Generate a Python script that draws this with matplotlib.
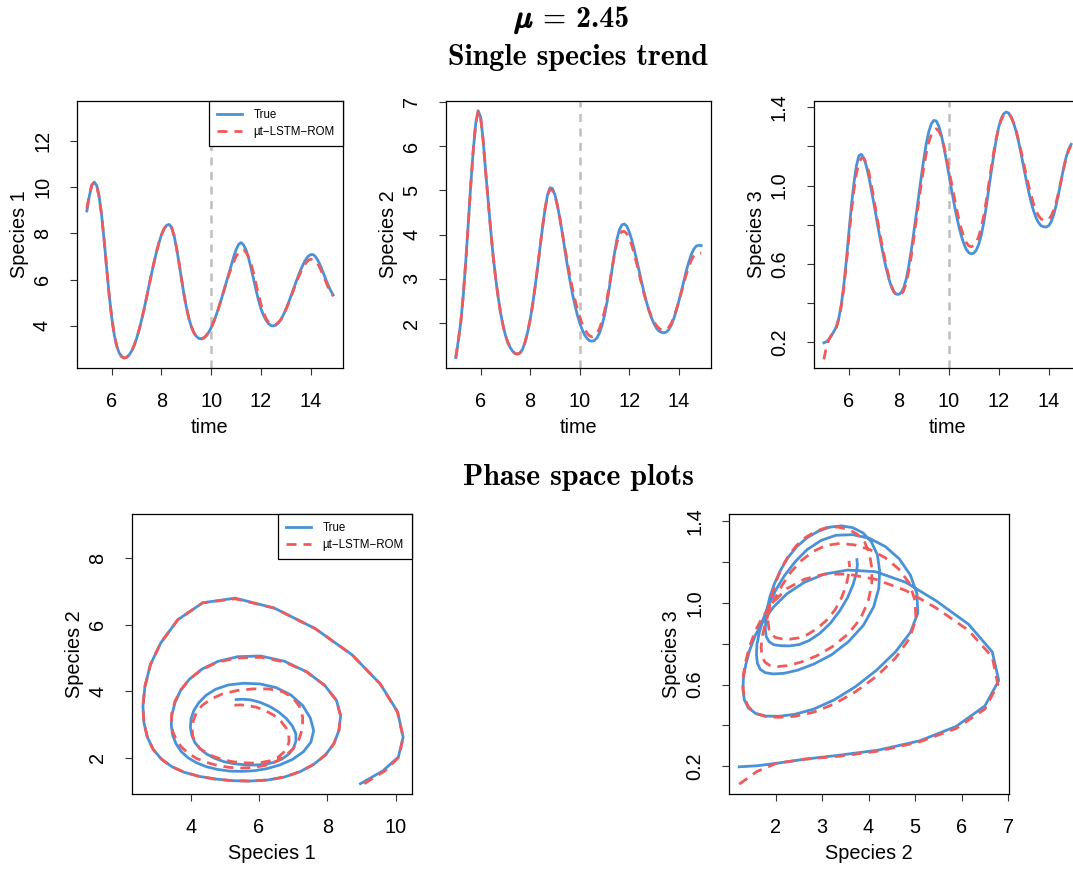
import numpy as np
import matplotlib
matplotlib.use("Agg")
import matplotlib.pyplot as plt
import matplotlib.patheffects as pe
from matplotlib.lines import Line2D

# ---------------- data ----------------
time = np.round(np.arange(50, 150) / 10.0, 1)   # 5.0 ... 14.9

s1_true = [8.97, 9.62, 10.08, 10.22, 10.06, 9.55, 8.72, 7.65, 6.45, 5.30,
           4.35, 3.62, 3.12, 2.82, 2.66, 2.60, 2.63, 2.73, 2.90, 3.14,
           3.45, 3.82, 4.25, 4.72, 5.22, 5.74, 6.25, 6.74, 7.20, 7.60,
           7.94, 8.19, 8.34, 8.39, 8.27, 7.93, 7.40, 6.75, 6.05, 5.38,
           4.80, 4.32, 3.96, 3.70, 3.54, 3.45, 3.43, 3.47, 3.57, 3.72,
           3.92, 4.17, 4.46, 4.78, 5.13, 5.49, 5.86, 6.22, 6.60, 6.98,
           7.30, 7.52, 7.60, 7.50, 7.28, 6.93, 6.50, 6.03, 5.55, 5.10,
           4.73, 4.45, 4.24, 4.09, 4.01, 3.99, 4.03, 4.12, 4.27, 4.47,
           4.71, 4.98, 5.27, 5.57, 5.87, 6.16, 6.43, 6.67, 6.87, 7.01,
           7.08, 7.08, 6.98, 6.80, 6.57, 6.30, 6.02, 5.76, 5.52, 5.33]

s1_pred = [9.08, 9.68, 10.10, 10.22, 10.05, 9.55, 8.72, 7.65, 6.45, 5.30,
           4.35, 3.62, 3.12, 2.82, 2.66, 2.60, 2.63, 2.73, 2.90, 3.14,
           3.45, 3.82, 4.25, 4.72, 5.22, 5.74, 6.25, 6.74, 7.20, 7.60,
           7.94, 8.19, 8.34, 8.39, 8.27, 7.93, 7.40, 6.75, 6.05, 5.38,
           4.80, 4.32, 3.96, 3.70, 3.54, 3.45, 3.43, 3.47, 3.57, 3.72,
           3.92, 4.17, 4.46, 4.78, 5.13, 5.49, 5.85, 6.18, 6.48, 6.76,
           7.00, 7.17, 7.27, 7.28, 7.18, 6.98, 6.68, 6.28, 5.82, 5.35,
           4.93, 4.58, 4.32, 4.16, 4.07, 4.04, 4.06, 4.14, 4.27, 4.46,
           4.69, 4.95, 5.23, 5.52, 5.81, 6.08, 6.33, 6.54, 6.71, 6.83,
           6.88, 6.87, 6.79, 6.64, 6.43, 6.18, 5.92, 5.66, 5.45, 5.28]

s2_true = [1.22, 1.60, 2.02, 2.62, 3.38, 4.22, 5.10, 5.88, 6.50, 6.80,
           6.66, 6.15, 5.45, 4.80, 4.15, 3.55, 3.05, 2.62, 2.25, 1.96,
           1.73, 1.56, 1.44, 1.36, 1.31, 1.30, 1.33, 1.42, 1.58, 1.80,
           2.08, 2.42, 2.82, 3.26, 3.72, 4.17, 4.58, 4.90, 5.06, 5.04,
           4.90, 4.66, 4.36, 4.02, 3.66, 3.30, 2.98, 2.68, 2.42, 2.19,
           2.00, 1.85, 1.73, 1.65, 1.60, 1.59, 1.61, 1.67, 1.78, 1.95,
           2.18, 2.47, 2.82, 3.20, 3.57, 3.89, 4.11, 4.22, 4.24, 4.19,
           4.06, 3.88, 3.66, 3.42, 3.17, 2.92, 2.68, 2.46, 2.27, 2.11,
           1.98, 1.88, 1.82, 1.79, 1.78, 1.80, 1.86, 1.96, 2.11, 2.29,
           2.50, 2.72, 2.95, 3.18, 3.38, 3.55, 3.67, 3.74, 3.76, 3.75]

s2_pred = [1.22, 1.60, 2.02, 2.62, 3.38, 4.22, 5.10, 5.88, 6.50, 6.78,
           6.66, 6.15, 5.45, 4.80, 4.15, 3.55, 3.05, 2.62, 2.25, 1.96,
           1.73, 1.56, 1.44, 1.36, 1.31, 1.30, 1.33, 1.42, 1.58, 1.80,
           2.08, 2.42, 2.82, 3.26, 3.72, 4.17, 4.58, 4.88, 5.02, 5.00,
           4.88, 4.65, 4.36, 4.03, 3.70, 3.38, 3.08, 2.80, 2.55, 2.33,
           2.14, 1.98, 1.86, 1.77, 1.71, 1.69, 1.71, 1.77, 1.88, 2.05,
           2.27, 2.55, 2.88, 3.22, 3.55, 3.82, 3.99, 4.07, 4.07, 4.02,
           3.92, 3.76, 3.56, 3.34, 3.10, 2.87, 2.65, 2.45, 2.28, 2.14,
           2.03, 1.94, 1.88, 1.85, 1.84, 1.86, 1.91, 2.00, 2.15, 2.31,
           2.49, 2.69, 2.90, 3.10, 3.28, 3.42, 3.52, 3.57, 3.59, 3.58]

s3_true = [0.198, 0.203, 0.215, 0.235, 0.255, 0.280, 0.325, 0.395, 0.495, 0.620,
           0.760, 0.895, 1.010, 1.100, 1.152, 1.160, 1.140, 1.100, 1.045, 0.980,
           0.910, 0.838, 0.765, 0.697, 0.633, 0.575, 0.525, 0.485, 0.458, 0.446,
           0.445, 0.455, 0.480, 0.525, 0.590, 0.670, 0.760, 0.855, 0.950, 1.045,
           1.135, 1.215, 1.275, 1.315, 1.333, 1.330, 1.305, 1.260, 1.200, 1.132,
           1.060, 0.987, 0.918, 0.853, 0.795, 0.745, 0.705, 0.675, 0.658, 0.652,
           0.655, 0.670, 0.700, 0.745, 0.810, 0.890, 0.980, 1.070, 1.155, 1.235,
           1.298, 1.342, 1.367, 1.376, 1.370, 1.350, 1.318, 1.275, 1.222, 1.160,
           1.095, 1.030, 0.970, 0.915, 0.870, 0.835, 0.810, 0.795, 0.790, 0.789,
           0.795, 0.815, 0.850, 0.900, 0.960, 1.025, 1.090, 1.145, 1.185, 1.211]

s3_pred = [0.113, 0.175, 0.215, 0.235, 0.250, 0.275, 0.320, 0.385, 0.480, 0.600,
           0.735, 0.865, 0.975, 1.060, 1.115, 1.140, 1.140, 1.115, 1.070, 1.005,
           0.935, 0.860, 0.785, 0.715, 0.650, 0.590, 0.535, 0.490, 0.458, 0.443,
           0.440, 0.445, 0.465, 0.505, 0.565, 0.640, 0.730, 0.825, 0.920, 1.010,
           1.095, 1.165, 1.220, 1.260, 1.283, 1.290, 1.280, 1.250, 1.205, 1.150,
           1.085, 1.020, 0.955, 0.890, 0.830, 0.780, 0.740, 0.710, 0.693, 0.688,
           0.693, 0.710, 0.740, 0.785, 0.845, 0.920, 1.005, 1.090, 1.170, 1.240,
           1.295, 1.335, 1.360, 1.370, 1.368, 1.350, 1.320, 1.280, 1.230, 1.175,
           1.115, 1.055, 1.000, 0.950, 0.905, 0.870, 0.845, 0.830, 0.823, 0.822,
           0.828, 0.845, 0.875, 0.915, 0.965, 1.025, 1.085, 1.140, 1.180, 1.205]

split_time = 10
legend_labels = ["True", "\u00b5t\u2212LSTM\u2212ROM"]
title_symbol = r"$\mu$"
title_value = "= 2.45"
top_title = "Single species trend"
bottom_title = "Phase space plots"

# ---------------- style ----------------
plt.rcParams["font.family"] = ["Liberation Sans", "DejaVu Sans"]
plt.rcParams["mathtext.fontset"] = "cm"

BLUE = "#4A92D8"
RED = "#EF5B5B"
GREY = "#BEBEBE"
LW = 2.0
DASH = (0, (3.6, 2.5))
FS = 14.3

W, H = 1073, 872
fig = plt.figure(figsize=(W / 100, H / 100), dpi=100)


def add_ax(l, r, t, b):
    return fig.add_axes([l / W, 1 - b / H, (r - l) / W, (b - t) / H])


def style(ax, xticks, yticks, ylabels=None, xlabel="", ylabel=""):
    ax.set_xticks(xticks)
    ax.set_xticklabels([str(v) for v in xticks])
    ax.set_yticks(yticks)
    if ylabels is None:
        ylabels = [str(v) for v in yticks]
    ax.set_yticklabels(ylabels)
    ax.tick_params(direction="out", length=5, width=0.8, labelsize=FS,
                   color="#333333")
    ax.tick_params(axis="x", pad=12)
    ax.tick_params(axis="y", pad=13, labelrotation=90)
    for lab in ax.get_yticklabels():
        lab.set_va("center")
    for s in ax.spines.values():
        s.set_linewidth(0.9)
    ax.set_xlabel(xlabel, fontsize=FS, labelpad=5)
    ax.set_ylabel(ylabel, fontsize=FS, labelpad=3)


def add_legend(ax):
    handles = [Line2D([], [], color=BLUE, lw=LW),
               Line2D([], [], color=RED, lw=LW, ls=DASH)]
    leg = ax.legend(handles, legend_labels, loc="upper right",
                    borderaxespad=0, fontsize=8.3, frameon=True,
                    fancybox=False, edgecolor="black", framealpha=1,
                    handlelength=2.2, handletextpad=1.0, borderpad=0.7,
                    labelspacing=0.45)
    leg.get_frame().set_linewidth(0.9)


def trend(ax, true, pred):
    ax.axvline(split_time, color=GREY, lw=1.8, ls=(0, (3.2, 2.6)), zorder=1)
    ax.plot(time, true, color=BLUE, lw=LW, zorder=2)
    ax.plot(time, pred, color=RED, lw=LW, ls=DASH, zorder=3)


# --- top row ---
ax1 = add_ax(77, 343, 101, 368)
trend(ax1, s1_true, s1_pred)
ax1.set_xlim(4.604, 15.296)
ax1.set_ylim(2.168, 13.732)
style(ax1, [6, 8, 10, 12, 14], [4, 6, 8, 10, 12], xlabel="time", ylabel="Species 1")
add_legend(ax1)

ax2 = add_ax(446, 711, 101, 368)
trend(ax2, s2_true, s2_pred)
ax2.set_xlim(4.604, 15.296)
ax2.set_ylim(0.985, 7.02)
style(ax2, [6, 8, 10, 12, 14], [2, 3, 4, 5, 6, 7], xlabel="time", ylabel="Species 2")

ax3 = add_ax(814, 1081, 101, 368)
trend(ax3, s3_true, s3_pred)
ax3.set_xlim(4.604, 15.296)
ax3.set_ylim(0.069, 1.432)
style(ax3, [6, 8, 10, 12, 14], [0.2, 0.4, 0.6, 0.8, 1.0, 1.2, 1.4],
      ylabels=["0.2", "", "0.6", "", "1.0", "", "1.4"],
      xlabel="time", ylabel="Species 3")

# --- bottom row ---
ax4 = add_ax(132, 412, 514, 794)
ax4.plot(s1_true, s2_true, color=BLUE, lw=LW, zorder=2)
ax4.plot(s1_pred, s2_pred, color=RED, lw=LW, ls=DASH, zorder=3)
ax4.set_xlim(2.28, 10.48)
ax4.set_ylim(0.91, 9.33)
style(ax4, [4, 6, 8, 10], [2, 4, 6, 8], xlabel="Species 1", ylabel="Species 2")
add_legend(ax4)

ax5 = add_ax(729, 1009, 514, 794)
ax5.plot(s2_true, s3_true, color=BLUE, lw=LW, zorder=2)
ax5.plot(s2_pred, s3_pred, color=RED, lw=LW, ls=DASH, zorder=3)
ax5.set_xlim(1.0, 7.02)
ax5.set_ylim(0.065, 1.434)
style(ax5, [2, 3, 4, 5, 6, 7], [0.2, 0.4, 0.6, 0.8, 1.0, 1.2, 1.4],
      ylabels=["0.2", "", "0.6", "", "1.0", "", "1.4"],
      xlabel="Species 2", ylabel="Species 3")

# --- titles ---
fig.text(524 / W, 1 - 27 / H, title_symbol, ha="center", va="baseline",
         fontsize=22,
         path_effects=[pe.withStroke(linewidth=1.3, foreground="black")])
fig.text(543 / W, 1 - 27 / H, title_value, ha="left", va="baseline",
         family="cmb10", fontsize=21.5)
fig.text(578 / W, 1 - 65 / H, top_title, ha="center", va="baseline",
         family="cmb10", fontsize=21.5)
fig.text(578 / W, 1 - 485 / H, bottom_title, ha="center", va="baseline",
         family="cmb10", fontsize=21.5)

fig.savefig("out.png", dpi=100)
